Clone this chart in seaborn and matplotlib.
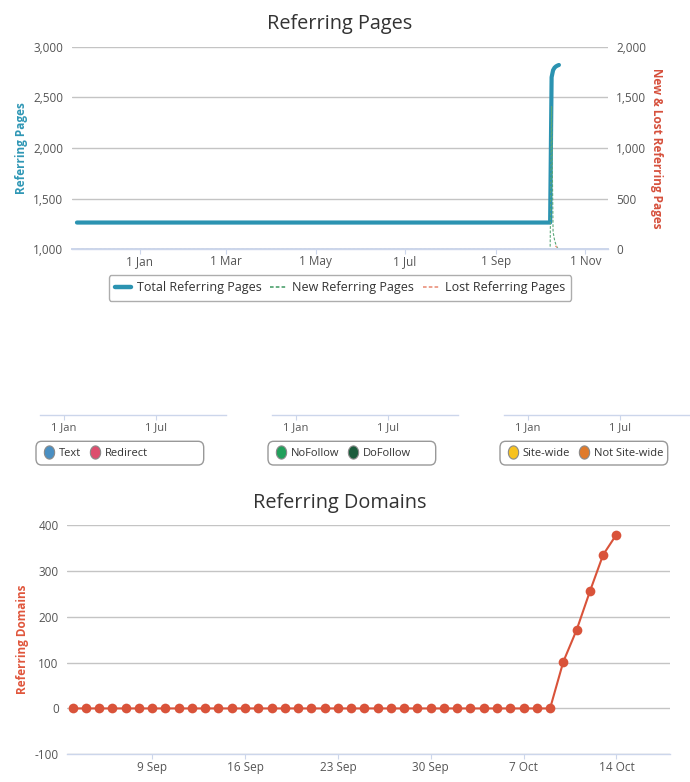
import matplotlib
matplotlib.use("Agg")
import matplotlib.pyplot as plt
import matplotlib.dates as mdates
import matplotlib.ticker as mticker
from matplotlib.lines import Line2D
from matplotlib.patches import FancyBboxPatch
from matplotlib.path import Path
import numpy as np
import pandas as pd
import seaborn as sns

# --- data ---
page_dates = ["2018-11-19", "2019-10-08", "2019-10-09", "2019-10-10",
              "2019-10-11", "2019-10-12", "2019-10-13", "2019-10-14"]
total_pages = [1262, 1262, 2700, 2770, 2795, 2808, 2816, 2822]
new_pages = [0, 0, 1410, 170, 90, 40, 10, 0]
lost_pages = [0, 0, 0, 0, 0, 30, 0, 0]

domain_dates = pd.date_range("2019-09-03", "2019-10-14", freq="D")
domains = [0, 0, 0, 0, 0, 0, 0, 0, 0, 0,
           0, 0, 0, 0, 0, 0, 0, 0, 0, 0,
           0, 0, 0, 0, 0, 0, 0, 0, 0, 0,
           0, 0, 0, 0, 0, 0, 0, 102, 171, 255,
           335, 379]

mini_legends = [
    [("Text", "#4a8fc2"), ("Redirect", "#dd4e6e")],
    [("NoFollow", "#21a05b"), ("DoFollow", "#1b5c3c")],
    [("Site-wide", "#f7c21f"), ("Not Site-wide", "#df7a2b")],
]

sns.set_theme(style="white")
plt.rcParams["font.family"] = ["Open Sans", "DejaVu Sans"]
plt.rcParams["axes.unicode_minus"] = False

W, H = 690, 782
fig = plt.figure(figsize=(W / 100, H / 100), dpi=100)


def rect(x0, y0, x1, y1):
    return [x0 / W, 1 - y1 / H, (x1 - x0) / W, (y1 - y0) / H]


AXIS_C = "#ccd6eb"
GRID_C = "#c4c4c4"
TICK_C = "#555555"
TEXT_C = "#333333"
TOTAL_C = "#2b93b1"
NEW_C = "#5aa878"
LOST_C = "#ec9a86"


def day_fmt(x, pos=None):
    d = mdates.num2date(x)
    return f"{d.day} {d.strftime('%b')}"


def style_x(ax, size=8.5):
    for s in ["top", "right", "left"]:
        ax.spines[s].set_visible(False)
    ax.spines["bottom"].set_color(AXIS_C)
    ax.spines["bottom"].set_linewidth(1)
    ax.tick_params(axis="x", length=3.6, width=0.8, color=AXIS_C, pad=1,
                   labelsize=size, labelcolor=TICK_C, bottom=True)
    ax.xaxis.set_major_formatter(mticker.FuncFormatter(day_fmt))


# ---------------- Referring Pages ----------------
pages = pd.DataFrame({"date": pd.to_datetime(page_dates), "total": total_pages,
                      "new": new_pages, "lost": lost_pages})

ax1 = fig.add_axes(rect(71.7, 47, 607.7, 249))
ax2 = ax1.twinx()
sns.lineplot(data=pages, x="date", y="total", ax=ax1, color=TOTAL_C,
             linewidth=3, solid_capstyle="round", solid_joinstyle="round",
             legend=False)
sns.lineplot(data=pages, x="date", y="new", ax=ax2, color=NEW_C,
             linewidth=0.8, linestyle=(0, (2.5, 1.5)), legend=False)
sns.lineplot(data=pages, x="date", y="lost", ax=ax2, color=LOST_C,
             linewidth=0.8, linestyle=(0, (2.5, 1.5)), legend=False)

xlim_year = (pd.Timestamp("2018-11-15 10:00"), pd.Timestamp("2019-11-16 07:00"))
ax1.set_xlim(*xlim_year)
ax1.set_ylim(1000, 3000)
ax2.set_ylim(0, 2000)
ax1.set_yticks([1000, 1500, 2000, 2500, 3000])
ax2.set_yticks([0, 500, 1000, 1500, 2000])
ax1.yaxis.set_major_formatter(mticker.StrMethodFormatter("{x:,.0f}"))
ax2.yaxis.set_major_formatter(mticker.StrMethodFormatter("{x:,.0f}"))
ax1.xaxis.set_major_locator(mdates.MonthLocator(bymonth=[1, 3, 5, 7, 9, 11]))
style_x(ax1)
for s in ["top", "left", "right"]:
    ax2.spines[s].set_visible(False)
# the twin's bottom spine hides the zero-level dashed lines like the original
ax2.spines["bottom"].set_color(AXIS_C)
ax2.spines["bottom"].set_linewidth(1.4)
ax2.spines["bottom"].set_zorder(5)
ax1.grid(axis="y", color=GRID_C, linewidth=1)
ax1.grid(axis="x", visible=False)
ax1.set_axisbelow(True)
ax1.tick_params(axis="y", length=0, pad=6, labelsize=8.5, labelcolor=TICK_C)
ax2.tick_params(axis="y", length=0, pad=6, labelsize=8.5, labelcolor=TICK_C)
ax1.set_xlabel("")
ax1.set_ylabel("Referring Pages", color="#2f97b5", fontsize=8.5,
               fontweight="bold", labelpad=4)
ax2.set_ylabel("New & Lost Referring Pages", color="#d6503c", fontsize=8.5,
               fontweight="bold", rotation=270, labelpad=12)
fig.text(340 / W, 1 - 24 / H, "Referring Pages", ha="center", va="center",
         fontsize=14.3, color=TEXT_C)

top_handles = [
    Line2D([], [], color=TOTAL_C, linewidth=3.2, label="Total Referring Pages"),
    Line2D([], [], color=NEW_C, linewidth=1.3, linestyle=(0, (2, 1.2)),
           label="New Referring Pages"),
    Line2D([], [], color=LOST_C, linewidth=1.3, linestyle=(0, (2, 1.2)),
           label="Lost Referring Pages"),
]
leg = fig.legend(handles=top_handles, loc="center", ncol=3,
                 bbox_to_anchor=(340 / W, 1 - 288 / H), fontsize=9,
                 frameon=True, fancybox=True, edgecolor="#999999",
                 handlelength=1.25, handletextpad=0.5, columnspacing=0.7,
                 borderpad=0.5, borderaxespad=0)
leg.get_frame().set_linewidth(1)
for t in leg.get_texts():
    t.set_color(TEXT_C)

# ---------------- three empty mini charts ----------------
theta = np.linspace(0, 2 * np.pi, 40)
oval = Path(np.column_stack([0.78 * np.cos(theta), np.sin(theta)]))

mini_x = [(40, 225.7), (272, 457.7), (504, 689.7)]
for (x0, x1), entries in zip(mini_x, mini_legends):
    ax = fig.add_axes(rect(x0, 395, x1, 415.3))
    ax.set_xlim(*xlim_year)
    ax.set_ylim(0, 1)
    ax.set_yticks([])
    ax.set_facecolor("none")
    ax.xaxis.set_major_locator(mdates.MonthLocator(bymonth=[1, 7]))
    style_x(ax, size=8)

    box = FancyBboxPatch(((x0 - 4) / W, 1 - 465 / H), 167.7 / W, 23.7 / H,
                         boxstyle="round,pad=0,rounding_size=0.008",
                         transform=fig.transFigure, facecolor="white",
                         edgecolor="#999999", linewidth=1)
    fig.add_artist(box)
    handles = [Line2D([], [], linestyle="none", marker=oval, markersize=9.5,
                      markerfacecolor=c, markeredgecolor="#8a8a8a",
                      markeredgewidth=0.8, label=n) for n, c in entries]
    lg = fig.legend(handles=handles, loc="center left", ncol=2,
                    bbox_to_anchor=((x0 + 3) / W, 1 - 453 / H), frameon=False,
                    fontsize=8, handlelength=1.0, handletextpad=0.4,
                    columnspacing=0.75, borderpad=0, borderaxespad=0)
    for t in lg.get_texts():
        t.set_color(TEXT_C)

# ---------------- Referring Domains ----------------
dom = pd.DataFrame({"date": domain_dates, "domains": domains})
ax3 = fig.add_axes(rect(67, 525, 670, 754.3))
sns.lineplot(data=dom, x="date", y="domains", ax=ax3, color="#d9533a",
             linewidth=1.5, marker="o", markersize=7, markeredgewidth=0,
             legend=False)
ax3.set_xlim(pd.Timestamp("2019-09-02 14:00"), pd.Timestamp("2019-10-18 01:00"))
ax3.set_ylim(-100, 400)
ax3.set_yticks([-100, 0, 100, 200, 300, 400])
ax3.xaxis.set_major_locator(mdates.WeekdayLocator(byweekday=mdates.MO))
style_x(ax3)
ax3.grid(axis="y", color=GRID_C, linewidth=1)
ax3.grid(axis="x", visible=False)
ax3.set_axisbelow(True)
ax3.tick_params(axis="y", length=0, pad=6, labelsize=8.5, labelcolor=TICK_C)
ax3.set_xlabel("")
ax3.set_ylabel("Referring Domains", color="#e0563c", fontsize=8.5,
               fontweight="bold", labelpad=4)
fig.text(340 / W, 1 - 503 / H, "Referring Domains", ha="center", va="center",
         fontsize=14.3, color=TEXT_C)

fig.savefig("out.png", dpi=100, facecolor="white")
